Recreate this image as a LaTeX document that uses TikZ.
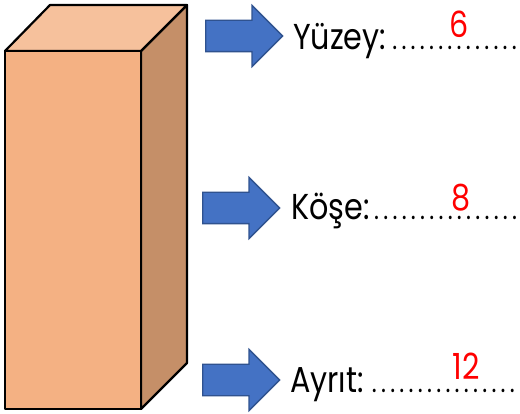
\documentclass[tikz,border=0pt]{standalone}
\usepackage{fontspec}
\setmainfont[FakeStretch=0.84]{Poppins}
\usetikzlibrary{shapes.arrows}
\definecolor{arrowblue}{HTML}{4472C4}
\definecolor{arrowline}{HTML}{2F528F}
\definecolor{boxfront}{HTML}{F4B183}
\definecolor{boxtop}{HTML}{F6C19C}
\definecolor{boxside}{HTML}{C58F68}
\newcommand{\dotrow}[1]{\hbox to #1{\cleaders\hbox to 9.2pt{\hss\fontsize{28}{28}\selectfont.\hss}\hfill}}
\tikzset{
pointer/.style={single arrow, draw=arrowline, fill=arrowblue, line width=1.3pt, anchor=west,
  single arrow tip angle=90, single arrow head extend=15pt, inner sep=15pt, minimum height=77pt, minimum width=60pt}, % the blue arrows
face/.style={draw=black, line width=2.2pt, line join=round}, % faces of the box
label/.style={anchor=base west, inner sep=0pt, font=\fontsize{36}{36}\selectfont}, % word and dots
answer/.style={anchor=base, inner sep=0pt, text=red, font=\fontsize{36}{36}\selectfont}, % red numbers
}
\begin{document}
\begin{tikzpicture}[x=1pt, y=-1pt]
    \useasboundingbox (0,0) rectangle (520,414);
    % box
    \fill[white] (0,0) rectangle (520,414);
    \draw[face, fill=boxside] (141,51) -- (187,5) -- (187,363) -- (141,409) -- cycle;
    \draw[face, fill=boxtop] (5,51) -- (50,5) -- (187,5) -- (141,51) -- cycle;
    \draw[face, fill=boxfront] (5,51) rectangle (141,409);
    % arrows
    \node[pointer] (arrow1) at (205,36) {};
    \node[pointer] (arrow2) at (202,208) {};
    \node[pointer] (arrow3) at (202,380) {};
    % labels
    \node[label] (yuzey) at (293,50) {Yüzey:\kern4pt\dotrow{128.8pt}};
    \node[label] (kose) at (291,220) {Köşe:\kern1pt\dotrow{150pt}};
    \node[label] (ayrit) at (290,392) {Ayrıt:\kern6pt\dotrow{147.2pt}};
    \node[answer] (six) at (459,38) {6};
    \node[answer] (eight) at (461,211) {8};
    \node[answer] (twelve) at (466,380) {12};
\end{tikzpicture}
\end{document}
